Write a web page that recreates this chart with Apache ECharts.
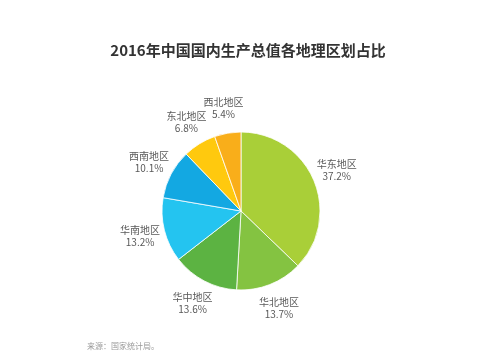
<!DOCTYPE html>
<html><head><meta charset="utf-8">
<script src="https://cdn.jsdelivr.net/npm/echarts@6/dist/echarts.min.js"></script>
<style>html,body{margin:0;padding:0;background:#fff}#c{width:496px;height:356px}</style>
</head><body><div id="c"></div>
<script>
const regions = ['华东地区','华北地区','华中地区','华南地区','西南地区','东北地区','西北地区'];
const shares = [37.2, 13.7, 13.6, 13.2, 10.1, 6.8, 5.4];
const colors = ['#a9cf38','#84c341','#5cb342','#24c4f0','#13a8e2','#ffc90e','#f9ae1a'];
const chart = echarts.init(document.getElementById('c'));
const pieData = regions.map((r,i)=>({name:r,value:shares[i],itemStyle:{color:colors[i]}}));
chart.setOption({
  animation:false,
  title:[{text:'2016年中国国内生产总值各地理区划占比',left:'center',top:38,
    textStyle:{fontFamily:'Noto Sans CJK SC',fontSize:15,fontWeight:'bold',color:'#333'}},
    {text:'来源：国家统计局。',left:82,top:337,textStyle:{fontFamily:'Noto Sans CJK SC',fontSize:8,fontWeight:'normal',color:'#999'}}],
  series:[{
    type:'pie',center:[241,211],radius:79,startAngle:90,clockwise:true,
    itemStyle:{borderColor:'#fff',borderWidth:0.8},
    label:{show:false},labelLine:{show:false},
    data:pieData
  },{
    type:'pie',center:[241,211],radius:[80,122],startAngle:90,clockwise:true,silent:true,
    avoidLabelOverlap:false,
    itemStyle:{color:'rgba(0,0,0,0)'},
    label:{show:true,position:'inside',formatter:p=>p.name+'\n'+p.value.toFixed(1)+'%',
      fontFamily:'Noto Sans CJK SC',fontSize:10,color:'#595959',lineHeight:12,align:'center'},
    labelLine:{show:false},
    labelLayout:{hideOverlap:false},
    data:regions.map((r,i)=>({name:r,value:shares[i]}))
  }]
});
</script></body></html>
